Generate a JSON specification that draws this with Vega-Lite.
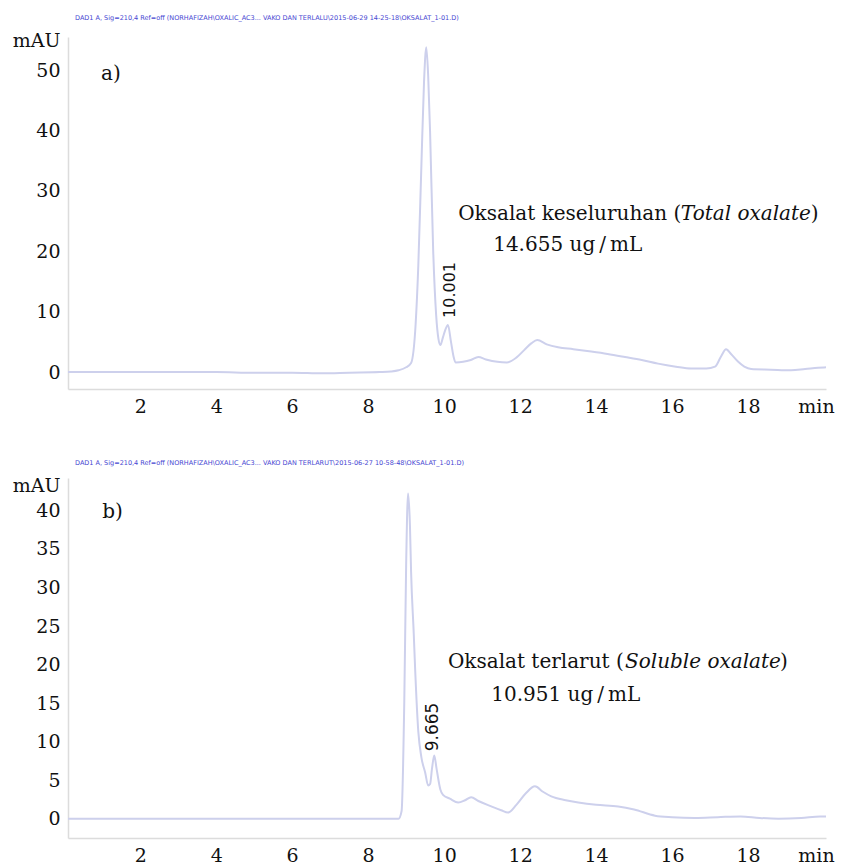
{
  "$schema": "https://vega.github.io/schema/vega-lite/v6.json",
  "padding": {"top": 14, "left": 12, "right": 5, "bottom": 0},
  "background": "white",
  "spacing": 44,
  "config": {
    "view": {"stroke": null},
    "font": "DejaVu Serif",
    "axis": {
      "grid": false,
      "ticks": false,
      "domainColor": "#dcdcdc",
      "domainWidth": 1.5,
      "labelFont": "DejaVu Serif",
      "labelFontSize": 19,
      "labelColor": "#111111",
      "labelPadding": 8,
      "labelOverlap": false
    },
    "title": {"font": "DejaVu Sans", "fontSize": 6.5, "color": "#4646d2", "fontWeight": "normal", "anchor": "start", "frame": "group", "offset": 10, "dx": 7}
  },
  "vconcat": [
    {
      "width": 758,
      "height": 352,
      "title": {"text": "DAD1 A, Sig=210,4 Ref=off (NORHAFIZAH\\OXALIC_AC3... VAKO DAN TERLALU\\2015-06-29 14-25-18\\OKSALAT_1-01.D)"},
      "encoding": {
        "x": {"field": "t", "type": "quantitative", "scale": {"domain": [0.1, 20.05], "nice": false, "zero": false},
              "axis": {"values": [2, 4, 6, 8, 10, 12, 14, 16, 18], "labelOverlap": false, "title": "min", "titleFont": "DejaVu Serif", "titleFontSize": 19, "titleFontWeight": "normal", "titleColor": "#111111", "titleAngle": 0, "titleAlign": "center", "titleBaseline": "top", "titleX": 748, "titleY": 8}},
        "y": {"field": "v", "type": "quantitative", "scale": {"domain": [-2.8, 55.5], "nice": false, "zero": false},
              "axis": {"values": [0, 10, 20, 30, 40, 50, 55], "labelOverlap": false, "labelExpr": "datum.value == 55 ? 'mAU' : datum.label", "title": null}}
      },
      "layer": [
        {
          "data": {"values": [
            {"t": 0.1, "v": 0}, {"t": 1, "v": 0}, {"t": 2, "v": 0}, {"t": 3, "v": 0}, {"t": 4, "v": 0},
            {"t": 5, "v": -0.1}, {"t": 6, "v": -0.1}, {"t": 6.8, "v": -0.2}, {"t": 7.5, "v": -0.1}, {"t": 8.3, "v": 0},
            {"t": 8.6, "v": 0.1}, {"t": 8.8, "v": 0.3}, {"t": 9.0, "v": 0.8}, {"t": 9.13, "v": 1.5}, {"t": 9.25, "v": 8},
            {"t": 9.32, "v": 17.7}, {"t": 9.4, "v": 34}, {"t": 9.47, "v": 48}, {"t": 9.53, "v": 53.8}, {"t": 9.58, "v": 49},
            {"t": 9.63, "v": 39.7}, {"t": 9.71, "v": 20.4}, {"t": 9.79, "v": 9.4}, {"t": 9.85, "v": 5.5}, {"t": 9.9, "v": 4.5},
            {"t": 9.97, "v": 5.8}, {"t": 10.03, "v": 7}, {"t": 10.1, "v": 7.8}, {"t": 10.18, "v": 5}, {"t": 10.25, "v": 2.5},
            {"t": 10.3, "v": 1.6}, {"t": 10.5, "v": 1.7}, {"t": 10.7, "v": 2.0}, {"t": 10.9, "v": 2.5}, {"t": 11.1, "v": 2.1},
            {"t": 11.4, "v": 1.7}, {"t": 11.65, "v": 1.6}, {"t": 11.9, "v": 2.4}, {"t": 12.1, "v": 3.6}, {"t": 12.3, "v": 4.8},
            {"t": 12.45, "v": 5.3}, {"t": 12.7, "v": 4.6}, {"t": 13.0, "v": 4.1}, {"t": 13.4, "v": 3.8}, {"t": 13.87, "v": 3.4},
            {"t": 14.3, "v": 3.0}, {"t": 14.76, "v": 2.5}, {"t": 15.2, "v": 2.0}, {"t": 15.63, "v": 1.4}, {"t": 16.1, "v": 0.9},
            {"t": 16.5, "v": 0.6}, {"t": 16.9, "v": 0.6}, {"t": 17.13, "v": 0.9}, {"t": 17.28, "v": 2.5}, {"t": 17.42, "v": 3.8},
            {"t": 17.55, "v": 3.0}, {"t": 17.74, "v": 1.7}, {"t": 17.9, "v": 0.9}, {"t": 18.08, "v": 0.5}, {"t": 18.6, "v": 0.4},
            {"t": 19.13, "v": 0.3}, {"t": 19.5, "v": 0.5}, {"t": 19.84, "v": 0.7}, {"t": 20.05, "v": 0.8}
          ]},
          "mark": {"type": "line", "color": "#cdd0ec", "strokeWidth": 2, "interpolate": "monotone"}
        },
        {
          "data": {"values": [
            {"t": 0.97, "v": 49.3, "label": "a)"},
            {"t": 10.37, "v": 26.2, "label": "Oksalat keseluruhan ("},
            {"t": 19.65, "v": 26.2, "label": ")"},
            {"t": 11.29, "v": 21.0, "label": "14.655 ug\u2009/\u2009mL"}
          ]},
          "mark": {"type": "text", "align": "left", "baseline": "middle", "font": "DejaVu Serif", "fontSize": 20, "color": "#111111"},
          "encoding": {"text": {"field": "label"}}
        },
        {
          "data": {"values": [{"t": 16.23, "v": 26.2, "label": "Total oxalate"}]},
          "mark": {"type": "text", "align": "left", "baseline": "middle", "font": "DejaVu Serif", "fontSize": 20, "fontStyle": "italic", "color": "#111111"},
          "encoding": {"text": {"field": "label"}}
        },
        {
          "data": {"values": [{"t": 10.16, "v": 13.6, "label": "10.001"}]},
          "mark": {"type": "text", "align": "center", "baseline": "middle", "angle": 270, "font": "DejaVu Sans", "fontSize": 16, "color": "#111111"},
          "encoding": {"text": {"field": "label"}}
        }
      ]
    },
    {
      "width": 758,
      "height": 360,
      "title": {"text": "DAD1 A, Sig=210,4 Ref=off (NORHAFIZAH\\OXALIC_AC3... VAKO DAN TERLARUT\\2015-06-27 10-58-48\\OKSALAT_1-01.D)"},
      "encoding": {
        "x": {"field": "t", "type": "quantitative", "scale": {"domain": [0.1, 20.05], "nice": false, "zero": false},
              "axis": {"values": [2, 4, 6, 8, 10, 12, 14, 16, 18], "labelOverlap": false, "title": "min", "titleFont": "DejaVu Serif", "titleFontSize": 19, "titleFontWeight": "normal", "titleColor": "#111111", "titleAngle": 0, "titleAlign": "center", "titleBaseline": "top", "titleX": 748, "titleY": 8}},
        "y": {"field": "v", "type": "quantitative", "scale": {"domain": [-2.5, 44.2], "nice": false, "zero": false},
              "axis": {"values": [0, 5, 10, 15, 20, 25, 30, 35, 40, 43.2], "labelOverlap": false, "labelExpr": "datum.value == 43.2 ? 'mAU' : datum.label", "title": null}}
      },
      "layer": [
        {
          "data": {"values": [
            {"t": 0.1, "v": 0}, {"t": 2, "v": 0}, {"t": 4, "v": 0}, {"t": 6, "v": 0}, {"t": 7, "v": 0},
            {"t": 8, "v": 0}, {"t": 8.5, "v": 0}, {"t": 8.8, "v": 0}, {"t": 8.88, "v": 1}, {"t": 8.95, "v": 15},
            {"t": 9.0, "v": 33}, {"t": 9.05, "v": 42.2}, {"t": 9.1, "v": 38}, {"t": 9.13, "v": 32}, {"t": 9.2, "v": 24},
            {"t": 9.24, "v": 19}, {"t": 9.32, "v": 11.3}, {"t": 9.4, "v": 8}, {"t": 9.5, "v": 6}, {"t": 9.58, "v": 4.3},
            {"t": 9.63, "v": 4.5}, {"t": 9.68, "v": 6.5}, {"t": 9.74, "v": 8.2}, {"t": 9.8, "v": 6.5}, {"t": 9.9, "v": 3.8},
            {"t": 9.97, "v": 3.1}, {"t": 10.15, "v": 2.6}, {"t": 10.37, "v": 2.1}, {"t": 10.55, "v": 2.4}, {"t": 10.71, "v": 2.8},
            {"t": 10.9, "v": 2.3}, {"t": 11.24, "v": 1.6}, {"t": 11.5, "v": 1.1}, {"t": 11.68, "v": 0.8}, {"t": 11.9, "v": 1.8},
            {"t": 12.15, "v": 3.3}, {"t": 12.39, "v": 4.2}, {"t": 12.6, "v": 3.5}, {"t": 12.82, "v": 2.9}, {"t": 13.2, "v": 2.4},
            {"t": 13.53, "v": 2.1}, {"t": 14.0, "v": 1.8}, {"t": 14.58, "v": 1.6}, {"t": 15.0, "v": 1.2}, {"t": 15.55, "v": 0.4},
            {"t": 16.0, "v": 0.2}, {"t": 16.6, "v": 0.1}, {"t": 17.2, "v": 0.2}, {"t": 17.8, "v": 0.3}, {"t": 18.3, "v": 0.1},
            {"t": 18.8, "v": 0}, {"t": 19.4, "v": 0.1}, {"t": 19.9, "v": 0.3}, {"t": 20.05, "v": 0.3}
          ]},
          "mark": {"type": "line", "color": "#cdd0ec", "strokeWidth": 2, "interpolate": "monotone"}
        },
        {
          "data": {"values": [
            {"t": 1.0, "v": 39.8, "label": "b)"},
            {"t": 10.1, "v": 20.3, "label": "Oksalat terlarut ("},
            {"t": 18.84, "v": 20.3, "label": ")"},
            {"t": 11.24, "v": 16.0, "label": "10.951 ug\u2009/\u2009mL"}
          ]},
          "mark": {"type": "text", "align": "left", "baseline": "middle", "font": "DejaVu Serif", "fontSize": 20, "color": "#111111"},
          "encoding": {"text": {"field": "label"}}
        },
        {
          "data": {"values": [{"t": 14.76, "v": 20.3, "label": "Soluble oxalate"}]},
          "mark": {"type": "text", "align": "left", "baseline": "middle", "font": "DejaVu Serif", "fontSize": 20, "fontStyle": "italic", "color": "#111111"},
          "encoding": {"text": {"field": "label"}}
        },
        {
          "data": {"values": [{"t": 9.7, "v": 11.9, "label": "9.665"}]},
          "mark": {"type": "text", "align": "center", "baseline": "middle", "angle": 270, "font": "DejaVu Sans", "fontSize": 17, "color": "#111111"},
          "encoding": {"text": {"field": "label"}}
        }
      ]
    }
  ]
}
